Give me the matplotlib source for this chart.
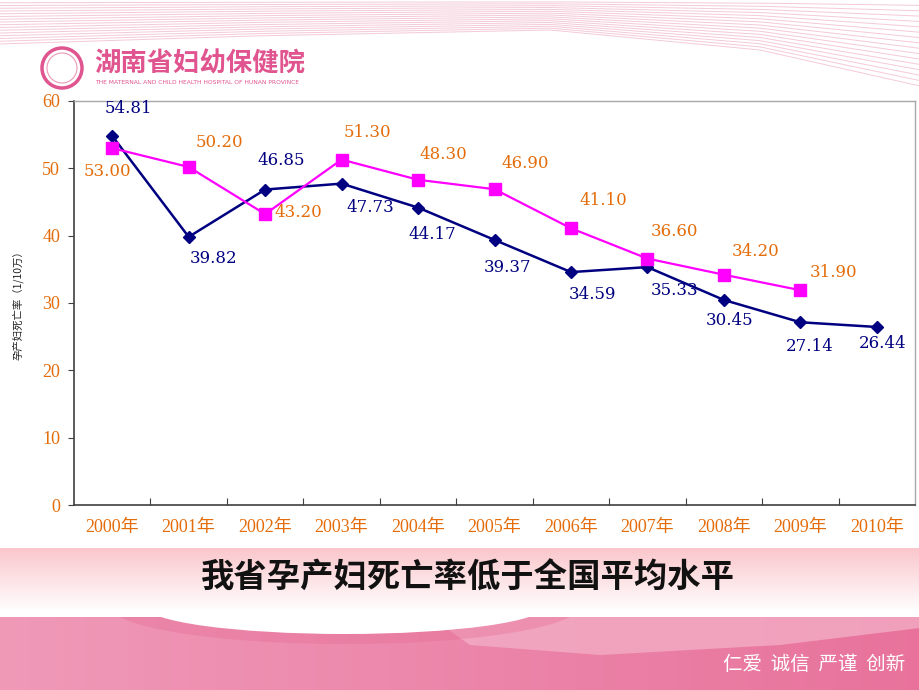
import numpy as np
import matplotlib.pyplot as plt
from matplotlib.patches import Ellipse, Circle, Polygon

# data
years = ["2000年", "2001年", "2002年", "2003年", "2004年", "2005年",
         "2006年", "2007年", "2008年", "2009年", "2010年"]
hunan = [54.81, 39.82, 46.85, 47.73, 44.17, 39.37, 34.59, 35.33, 30.45, 27.14, 26.44]
national = [53.00, 50.20, 43.20, 51.30, 48.30, 46.90, 41.10, 36.60, 34.20, 31.90]

# label offsets in pixels (dx, dy)
hunan_offsets = [(16, 27), (25, -22), (16, 29), (29, -24), (14, -27), (13, -28),
                 (22, -22), (27, -23), (6, -21), (9, -24), (6, -17)]
national_offsets = [(-5, -23), (31, 24), (33, 2), (26, 27), (25, 25), (31, 26),
                    (32, 28), (27, 27), (32, 23), (33, 18)]

NAVY = "#000080"
MAGENTA = "#FF00FF"
ORANGE = "#E46C0A"
CJK = ["Noto Sans CJK SC", "DejaVu Sans"]
NUM = ["DejaVu Serif"]
TICKF = ["Liberation Serif", "Noto Sans CJK SC"]

fig = plt.figure(figsize=(9.2, 6.9), dpi=100)

# background layer in pixel coordinates
bg = fig.add_axes([0, 0, 1, 1])
bg.set_xlim(0, 920)
bg.set_ylim(690, 0)
bg.axis("off")

# top decorative stripes
xs = np.linspace(0, 920, 200)
env = np.interp(xs, [0, 250, 550, 760, 920], [44, 36, 30, 50, 86])
for k in range(1, 17):
    bg.plot(xs, env * k / 16, color="#F4CAD7", lw=0.7, zorder=1)

# logo
bg.add_patch(Circle((62, 68), 20, fill=False, ec="#E0558F", lw=2.5, zorder=2))
bg.add_patch(Circle((62, 68), 15, fill=False, ec="#E89AB8", lw=0.8, zorder=2))
bg.text(94, 64, "湖南省妇幼保健院", family=CJK, fontsize=19, fontweight="bold",
        color="#E0558F", ha="left", va="center", zorder=3)
bg.text(95, 83, "THE MATERNAL AND CHILD HEALTH HOSPITAL OF HUNAN PROVINCE",
        family=["DejaVu Sans"], fontsize=4.3, color="#E0558F",
        ha="left", va="center", zorder=3)

# bottom band
hgrad = np.linspace(0, 1, 64)[None, :]
lc = np.array([0.94, 0.60, 0.72])
rc = np.array([0.91, 0.45, 0.61])
bot = lc[None, None, :] * (1 - hgrad[..., None]) + rc[None, None, :] * hgrad[..., None]
bot = np.repeat(bot, 2, axis=0)
bg.imshow(bot, extent=[0, 920, 690, 617], aspect="auto", zorder=1)
bg.add_patch(Polygon([[430, 617], [920, 617], [920, 628], [780, 645], [600, 655],
                      [470, 645]],
                     closed=True, fc="#F4B0C7", ec="none", alpha=0.75, zorder=2))
bg.add_patch(Ellipse((345, 606), 470, 76, fc="#E4658F", ec="none", alpha=0.3, zorder=2))
bg.add_patch(Ellipse((345, 606), 400, 56, fc="white", ec="none", zorder=2.2))

# title band gradient
grad = np.linspace(0, 1, 64)[:, None]
top_c = np.array([0.98, 0.78, 0.80])
band = top_c[None, None, :] * (1 - grad[..., None]) + np.ones(3)[None, None, :] * grad[..., None]
band = np.repeat(band, 2, axis=1)
bg.imshow(band, extent=[0, 920, 612, 548], aspect="auto", zorder=2.5)
bg.add_patch(Polygon([[0, 612], [920, 612], [920, 617], [0, 617]], closed=True,
                     fc="white", ec="none", zorder=2.5))
bg.text(468, 578, "我省孕产妇死亡率低于全国平均水平", family=CJK, fontsize=24,
        fontweight="bold", color="#111111", ha="center", va="center", zorder=3)

bg.text(905, 664, "仁爱  诚信  严谨  创新", family=CJK, fontsize=14,
        color="white", ha="right", va="center", zorder=3)

# y label
bg.text(18, 303, "孕产妇死亡率（1/10万）", family=CJK, fontsize=7.5,
        color="#222222", rotation=90, ha="center", va="center", zorder=3)

# chart axes
ax = fig.add_axes([74 / 920, (690 - 505) / 690, (915 - 74) / 920, (505 - 101) / 690])
ax.patch.set_alpha(0)
x = np.arange(len(years))
ax.plot(x, hunan, color=NAVY, lw=1.8, marker="D", ms=6, mfc=NAVY, mec=NAVY, zorder=3)
ax.plot(x[:len(national)], national, color=MAGENTA, lw=1.6, marker="s", ms=8.5,
        mfc=MAGENTA, mec=MAGENTA, zorder=4)

for xi, v, (dx, dy) in zip(x, hunan, hunan_offsets):
    ax.annotate(f"{v:.2f}", (xi, v), xytext=(dx, dy), textcoords="offset pixels",
                ha="center", va="center", family=NUM, fontsize=12, color=NAVY, zorder=5)
for xi, v, (dx, dy) in zip(x, national, national_offsets):
    ax.annotate(f"{v:.2f}", (xi, v), xytext=(dx, dy), textcoords="offset pixels",
                ha="center", va="center", family=NUM, fontsize=12, color=ORANGE, zorder=5)

ax.set_xlim(-0.5, len(years) - 0.5)
ax.set_ylim(0, 60)
ax.set_xticks(np.arange(0.5, len(years) - 0.5, 1))
ax.set_xticklabels([])
ax.tick_params(axis="x", which="major", direction="in", length=5, color="#404040")
ax.set_xticks(x, minor=True)
ax.set_xticklabels(years, minor=True, family=TICKF, fontsize=13, color=ORANGE)
ax.tick_params(axis="x", which="minor", length=0, pad=10)
ax.set_yticks(range(0, 61, 10))
ax.set_yticklabels([str(t) for t in range(0, 61, 10)], family=TICKF, fontsize=13,
                   color=ORANGE)
ax.tick_params(axis="y", direction="out", length=4, color="#404040", pad=6)
for s in ["left", "bottom"]:
    ax.spines[s].set_color("#404040")
    ax.spines[s].set_linewidth(1.2)
for s in ["top", "right"]:
    ax.spines[s].set_color("#A8A8A8")
    ax.spines[s].set_linewidth(1.0)

fig.savefig("out.png", dpi=100)
